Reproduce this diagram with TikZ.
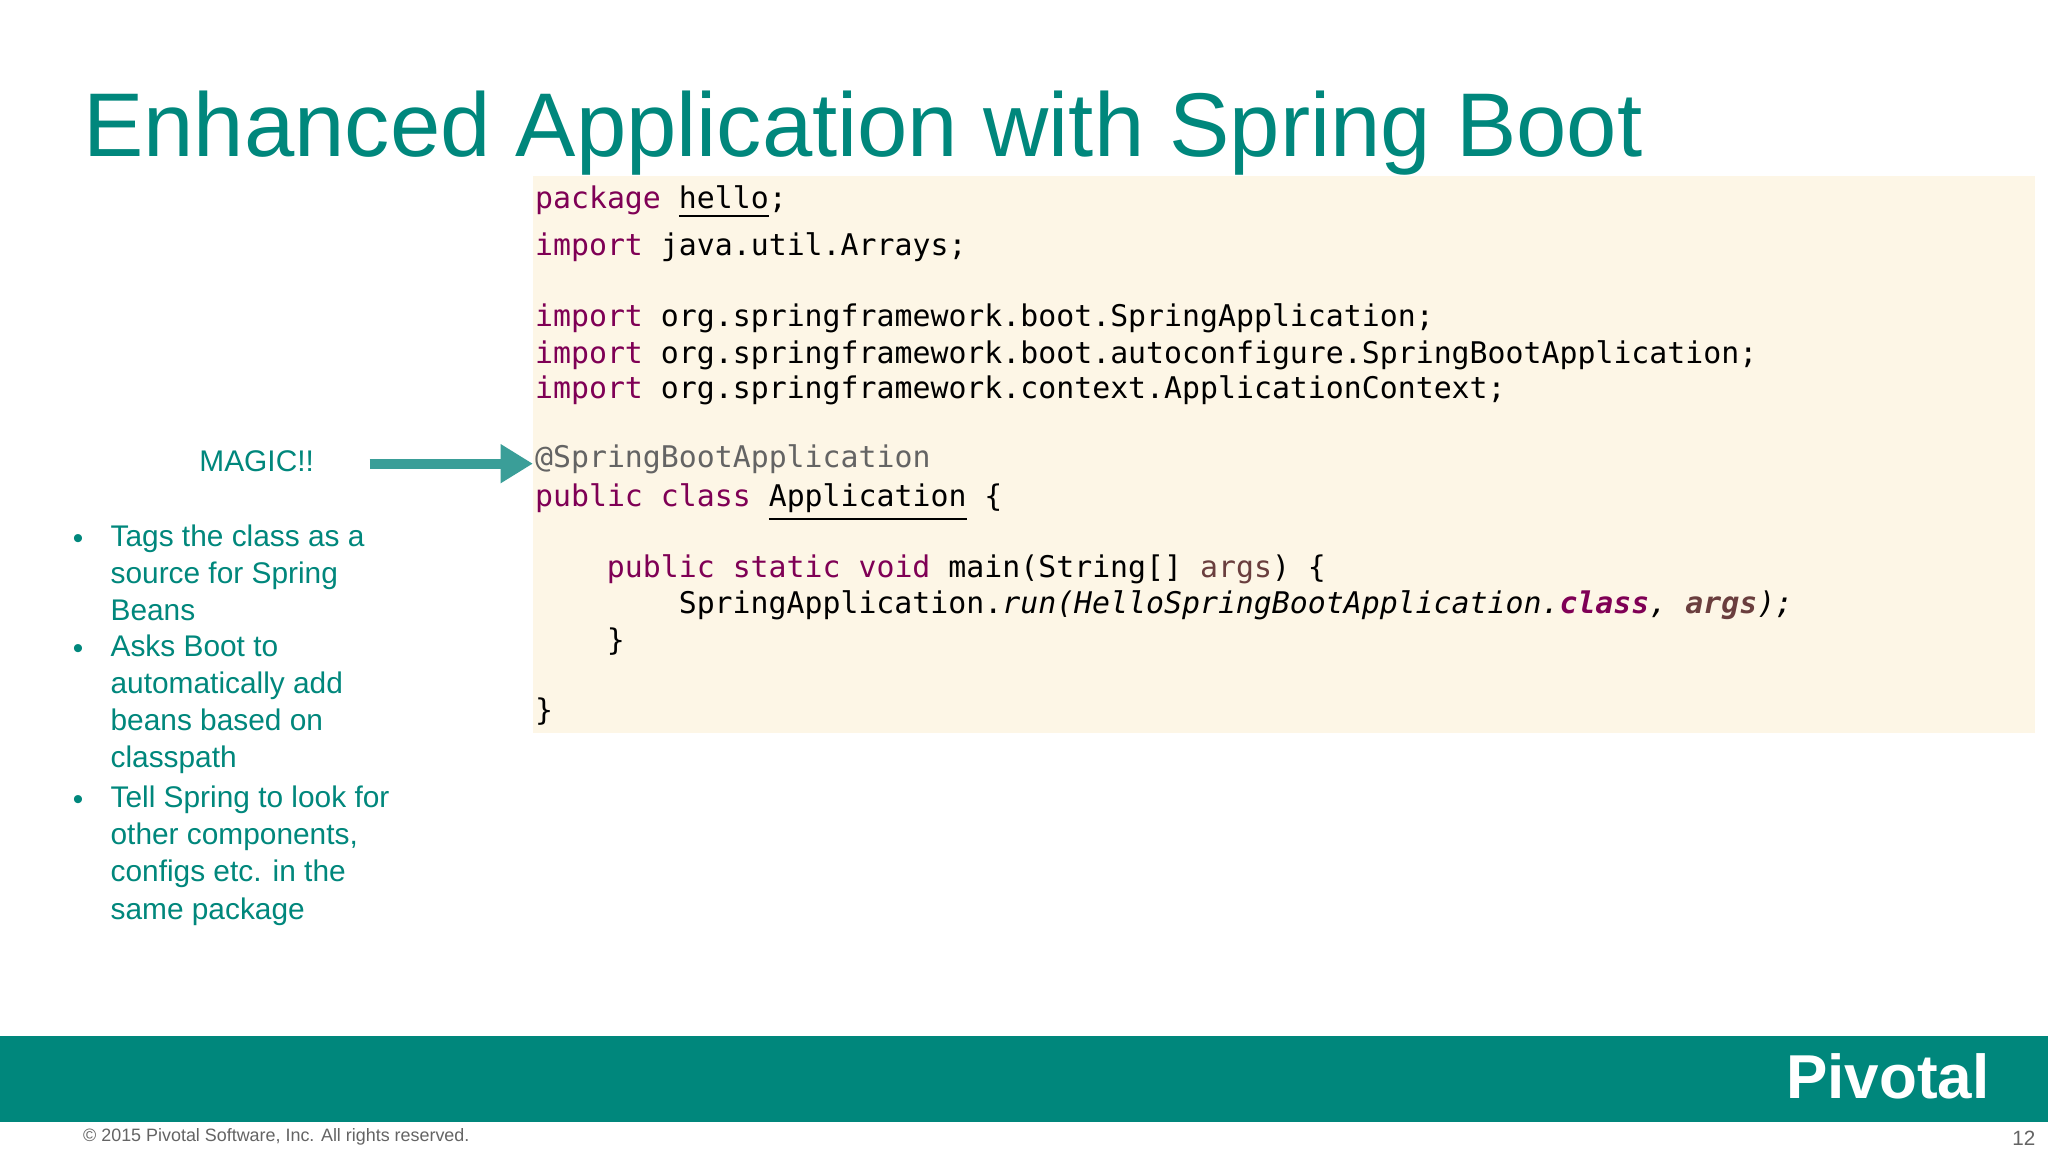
\documentclass[tikz,border=0pt]{standalone}
\usepackage{fontspec}
\setmainfont{Liberation Sans}
\setmonofont{DejaVu Sans Mono}
\usetikzlibrary{arrows.meta}
\definecolor{teal1}{RGB}{0,135,124}
\definecolor{arrowc}{RGB}{58,158,152}
\definecolor{kw}{RGB}{127,0,85}
\definecolor{ann}{RGB}{100,100,100}
\definecolor{var}{RGB}{106,62,62}
\definecolor{codebg}{RGB}{253,246,230}
\tikzset{codeline/.style={anchor=base west,inner sep=0pt,font=\ttfamily\fontsize{6.5}{7}\selectfont},
 bul/.style={anchor=north west,inner sep=0pt,text=teal1,font=\fontsize{6.5}{8.1}\selectfont,align=left}}
\newcommand{\kwd}[1]{\textcolor{kw}{#1}}
\begin{document}
\begin{tikzpicture}[x=0.01cm,y=-0.01cm]
\useasboundingbox (0,0) rectangle (1568,882);
\fill[white] (0,0) rectangle (1568,882);
\node[anchor=base west,inner sep=0pt,text=teal1,font=\fontsize{19.7}{24}\selectfont] (title) at (63,120) {Enhanced Application with Spring Boot};
\fill[codebg] (408,135) rectangle (1558,561);
\node[codeline] (l1) at (409,160) {\kwd{package} \underline{hello};};
\node[codeline] (l2) at (409,196) {\kwd{import} java.util.Arrays;};
\node[codeline] (l3) at (409,250) {\kwd{import} org.springframework.boot.SpringApplication;};
\node[codeline] (l4) at (409,278) {\kwd{import} org.springframework.boot.autoconfigure.SpringBootApplication;};
\node[codeline] (l5) at (409,305) {\kwd{import} org.springframework.context.ApplicationContext;};
\node[codeline,text=ann] (l6) at (409,358) {@SpringBootApplication};
\node[codeline] (l7) at (409,388) {\kwd{public class} \underline{Application} \{};
\node[codeline] (l8) at (464,442) {\kwd{public static void} main(String[] \textcolor{var}{args}) \{};
\node[codeline] (l9) at (519,470) {SpringApplication.\textit{run(HelloSpringBootApplication.\textbf{\kwd{class}}, \textbf{\textcolor{var}{args}});}};
\node[codeline] (l10) at (464,498) {\}};
\node[codeline] (l11) at (409,552) {\}};
\node[anchor=base west,inner sep=0pt,text=teal1,font=\fontsize{6.5}{8}\selectfont] (magic) at (152,361) {MAGIC!!};
\coordinate (as) at (283,355);
\coordinate (ae) at (408,355);
\draw[arrowc,line width=2.2pt,-{Triangle[length=7pt,width=8pt]}] (as) -- (ae);
\node[bul] (b1) at (84,401) {Tags the class as a\\source for Spring\\Beans};
\node[bul] (b2) at (84,485) {Asks Boot to\\automatically add\\beans based on\\classpath};
\node[bul] (b3) at (84,601) {Tell Spring to look for\\other components,\\configs etc. in the\\same package};
\foreach \y in {420,504,620} \node[anchor=base west,inner sep=0pt,text=teal1,font=\fontsize{6.5}{8}\selectfont] at (55,\y) {•};
\fill[teal1] (0,793) rectangle (1568,859);
\node[anchor=base west,inner sep=0pt,text=white,font=\bfseries\fontsize{13.5}{15}\selectfont] (piv) at (1367,841) {Pivotal};
\node[anchor=base west,inner sep=0pt,text=ann,font=\fontsize{3.9}{4.5}\selectfont] (copy) at (63,874) {© 2015 Pivotal Software, Inc.  All rights reserved.};
\node[anchor=base east,inner sep=0pt,text=ann,font=\fontsize{4.5}{5}\selectfont] (pg) at (1559,877) {12};
\end{tikzpicture}
\end{document}
